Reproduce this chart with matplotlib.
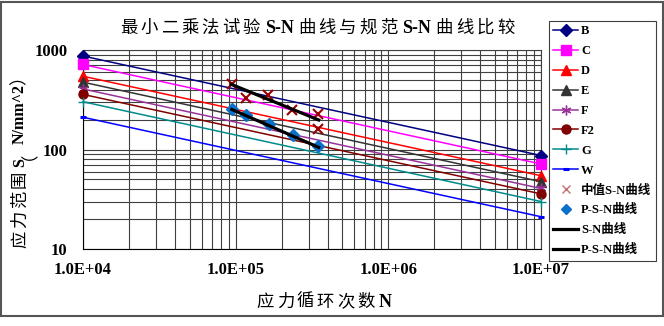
import matplotlib
matplotlib.use("Agg")
import matplotlib.pyplot as plt
from matplotlib.lines import Line2D
from matplotlib.patches import Rectangle
from matplotlib.ticker import LogLocator, NullFormatter, FuncFormatter
from matplotlib.transforms import IdentityTransform

# ---------------- data ----------------
N_ends = [1e4, 1e7]
series_names = ["B", "C", "D", "E", "F", "F2", "G", "W"]
S_B = [870, 87]
S_C = [715, 71.5]
S_D = [545, 54.5]
S_E = [475, 47.5]
S_F = [406, 40.6]
S_F2 = [358, 35.8]
S_G = [302, 30.0]
S_W = [211, 21.1]
series_values = [S_B, S_C, S_D, S_E, S_F, S_F2, S_G, S_W]

N_median = [9.42e4, 1.167e5, 1.635e5, 2.33e5, 3.48e5, 3.48e5]
S_median = [455, 332, 353, 249, 226, 161]
N_psn = [9.42e4, 1.167e5, 1.65e5, 2.36e5, 3.48e5]
S_psn = [253, 222, 179, 140, 108]
N_fit = [9.42e4, 3.5e5]
S_fit_sn = [450, 198]
S_fit_psn = [253, 105]

label_median = "中值S-N曲线"
label_psn_pts = "P-S-N曲线"
label_sn_line = "S-N曲线"
label_psn_line = "P-S-N曲线"
yticks = [10, 100, 1000]
xticks = [1e4, 1e5, 1e6, 1e7]

# ---------------- styles ----------------
CJK = "Noto Sans CJK SC"
LAT = "Liberation Serif"
styles = {
    "B": dict(color="#000080", marker="D", ms=6),
    "C": dict(color="#FF00FF", marker="s", ms=7),
    "D": dict(color="#FF0000", marker="^", ms=7),
    "E": dict(color="#333333", marker="^", ms=7),
    "F": dict(color="#993399", marker=(6, 2, 0), ms=7, mew=1.0),
    "F2": dict(color="#800000", marker="o", ms=6.5),
    "G": dict(color="#008B8B", marker="+", ms=7, mew=1.0),
    "W": dict(color="#0000FF", marker="_", ms=4.5, mew=2.2),
}

fig = plt.figure(figsize=(6.64, 3.26), dpi=100)
W, H = 664, 326
ax = fig.add_axes([83 / W, 1 - 249 / H, (541 - 83) / W, (249 - 50) / H])
ax.set_xscale("log")
ax.set_yscale("log")
ax.set_xlim(1e4, 1e7)
ax.set_ylim(10, 1000)

handles = []
for name, vals in zip(series_names, series_values):
    st = styles[name]
    kw = dict(color=st["color"], marker=st["marker"], ms=st["ms"],
              mew=st.get("mew", 1.0), mfc=st["color"], mec=st["color"], lw=1.1)
    ax.plot(N_ends, vals, clip_on=False, zorder=3, **kw)
    handles.append(Line2D([], [], **kw))

ax.plot(N_median, S_median, ls="none", marker="x", ms=7, mew=1.5,
        color="#990000", zorder=4, clip_on=False)
ax.plot(N_psn, S_psn, ls="none", marker="D", ms=6.5, color="#0A70C8",
        zorder=4, clip_on=False)
ax.plot(N_fit, S_fit_sn, color="black", lw=2.3, zorder=5)
ax.plot(N_fit, S_fit_psn, color="black", lw=2.3, zorder=5)

handles.append(Line2D([], [], ls="none", marker="x", ms=6, mew=1.0, color="#C07070"))
handles.append(Line2D([], [], ls="none", marker="D", ms=5, color="#0A70C8"))
handles.append(Line2D([], [], color="black", lw=2.3))
handles.append(Line2D([], [], color="black", lw=2.3))
labels = series_names + [label_median, label_psn_pts, label_sn_line, label_psn_line]

# axes formatting
ax.set_xticks(xticks)
ax.set_yticks(yticks)
ax.xaxis.set_minor_locator(LogLocator(base=10, subs=range(2, 10), numticks=20))
ax.yaxis.set_minor_locator(LogLocator(base=10, subs=range(2, 10), numticks=20))
ax.xaxis.set_minor_formatter(NullFormatter())
ax.yaxis.set_minor_formatter(NullFormatter())
ax.xaxis.set_major_formatter(FuncFormatter(lambda v, p: f"{v:.1E}"))
ax.yaxis.set_major_formatter(FuncFormatter(lambda v, p: f"{v:g}"))
ax.tick_params(which="both", length=0)
ax.tick_params(axis="x", pad=9)
ax.tick_params(axis="y", pad=11)
for lab in ax.get_xticklabels() + ax.get_yticklabels():
    lab.set_fontfamily(LAT)
    lab.set_fontweight("bold")
    lab.set_fontsize(12)
ax.grid(which="both", color="#404040", lw=0.8)
ax.set_axisbelow(True)
for sp in ax.spines.values():
    sp.set_color("#404040")
    sp.set_linewidth(0.8)
ax.spines["left"].set_color("black")
ax.spines["bottom"].set_color("black")

leg = fig.legend(handles, labels, loc="upper left",
                 bbox_to_anchor=(549 / W, 1 - 21 / H), bbox_transform=fig.transFigure,
                 frameon=True, fancybox=False, edgecolor="#404040", framealpha=1,
                 borderpad=0.35, labelspacing=0.63, handlelength=2.0,
                 handletextpad=0.2, borderaxespad=0, numpoints=1,
                 prop=dict(family=[LAT, CJK], weight="bold", size=9))
leg.get_frame().set_linewidth(0.8)


def mixed_text(parts, cx, cy, rotation=0, cjk_size=12.0, lat_size=13.0, pitch=20.0, gap=3.0):
    r = fig.canvas.get_renderer()
    em = cjk_size * fig.dpi / 72
    items = []
    for s, kind in parts:
        if kind == "c":
            for ch in s:
                items.append((ch, "c", pitch))
        elif kind == "p":
            items.append((s, "c", 11.0))
        else:
            t = fig.text(0, 0, s, fontsize=lat_size, family=LAT, weight="bold",
                         transform=IdentityTransform())
            w = t.get_window_extent(r).width
            t.remove()
            items.append((s, "l", w + 2 * gap))
    L = sum(i[2] for i in items)
    pos = -L / 2
    off = 0.38 * em
    for s, kind, ln in items:
        if kind == "c":
            kw = dict(family=CJK, fontsize=cjk_size)
        else:
            kw = dict(family=LAT, fontsize=lat_size, weight="bold")
        if rotation == 0:
            if kind == "c":
                fig.text(cx + pos + ln / 2, cy - off, s, ha="center", va="baseline",
                         transform=IdentityTransform(), **kw)
            else:
                fig.text(cx + pos + gap, cy - off, s, ha="left", va="baseline",
                         transform=IdentityTransform(), **kw)
        else:
            fig.text(cx, cy + pos + ln / 2, s, ha="center", va="center",
                     rotation=90, transform=IdentityTransform(), **kw)
        pos += ln


mixed_text([("最小二乘法试验", "c"), ("S-N", "l"), ("曲线与规范", "c"),
            ("S-N", "l"), ("曲线比较", "c")], 317, H - 26, cjk_size=12.5, pitch=20.5)
mixed_text([("应力循环次数", "c"), ("N", "l")], 325, H - 300, cjk_size=12.5, pitch=20)
mixed_text([("应力范围", "c"), ("S", "l"), ("（", "p"), ("N/mm^2", "l"), ("）", "p")],
           20, H - 160, rotation=90, cjk_size=12.5, lat_size=11.5, gap=2.0, pitch=20)

fig.add_artist(Rectangle((1, H - 315.5), 661.5, 314, transform=IdentityTransform(),
                         fill=False, ec="#555555", lw=1.5))

fig.savefig("out.png", dpi=100, facecolor="white")
